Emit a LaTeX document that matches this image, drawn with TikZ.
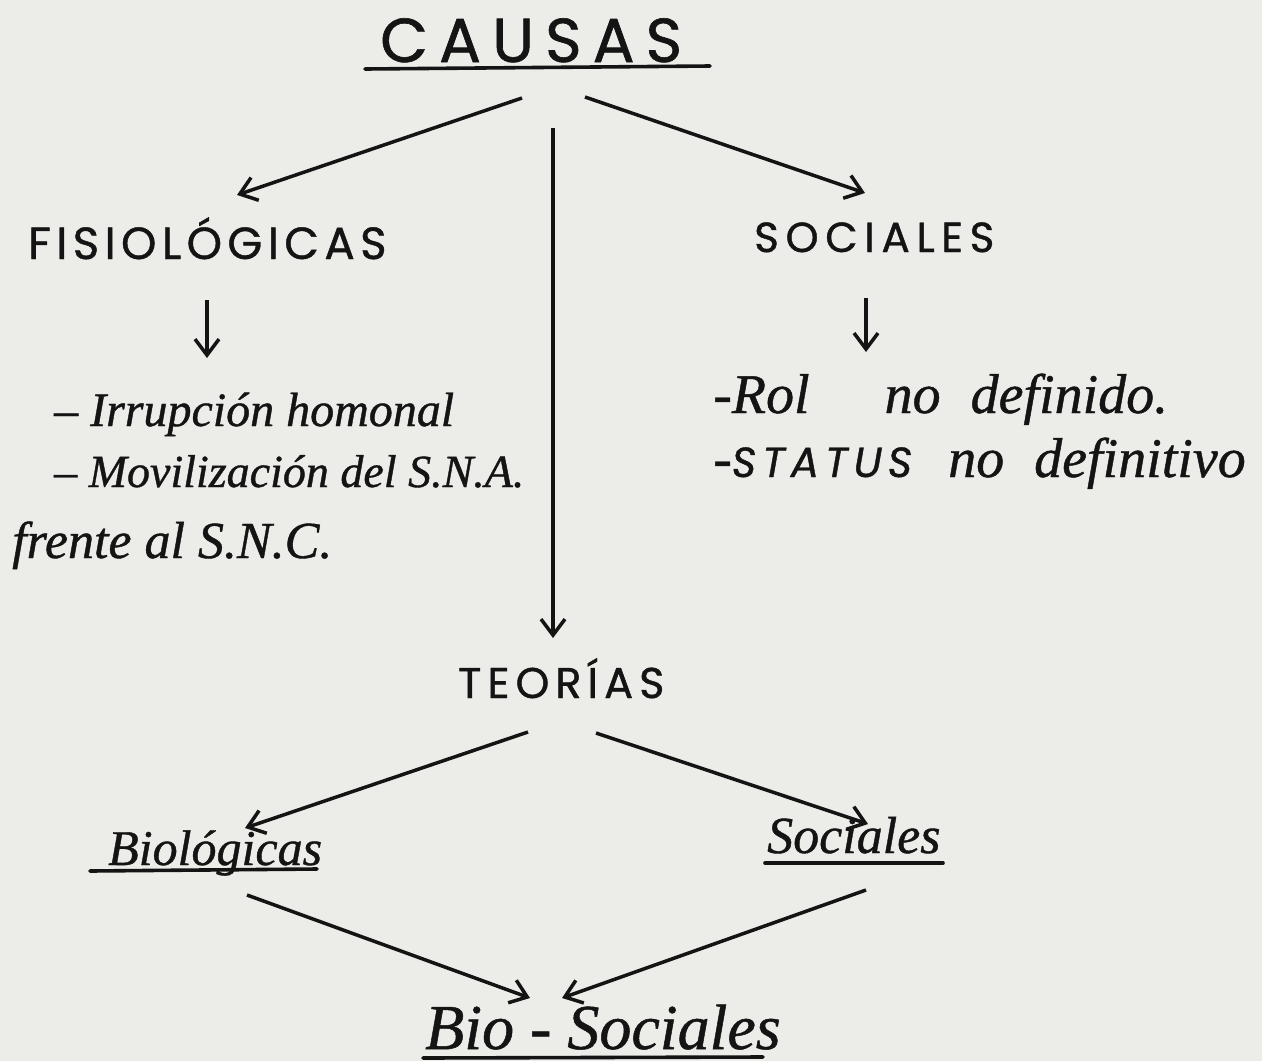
\documentclass[tikz,border=0pt]{standalone}
\usepackage{fontspec}
\setmainfont{Liberation Serif}
\newfontfamily\capsXL[LetterSpace=18, FakeBold=1]{Poppins}
\newfontfamily\capsFis[LetterSpace=12, FakeBold=1]{Poppins}
\newfontfamily\capsSoc[LetterSpace=16, FakeBold=1]{Poppins}
\newfontfamily\capsTeo[LetterSpace=14, FakeBold=1]{Poppins}
\newfontfamily\capsSt[LetterSpace=14, FakeBold=1]{Poppins}
\newfontfamily\handfont[FakeBold=0.8]{Liberation Serif}
\usetikzlibrary{arrows.meta}
\definecolor{paper}{RGB}{236,236,233}
\definecolor{ink}{RGB}{20,20,20}
\tikzset{
  txt/.style={anchor=base west, inner sep=0pt, text=ink},
  bigcap/.style={txt, font=\capsXL\fontsize{62}{70}\selectfont},
  hand/.style={txt, font=\handfont\itshape\fontsize{48}{56}\selectfont},
  conn/.style={draw=ink, line width=3.5pt, -{Straight Barb[length=16pt,width=24pt,line width=3.5pt]}},
  uline/.style={draw=ink, line width=3.6pt, line cap=round}
}
\begin{document}
\begin{tikzpicture}[x=1pt,y=-1pt]
\fill[paper] (0,0) rectangle (1262,1061);
\useasboundingbox (0,0) rectangle (1262,1061);

% titles
\node[bigcap] (causas) at (380,62) {CAUSAS};
\draw[uline] (365,69) -- (710,66);

\node[txt, font=\capsFis\fontsize{45}{52}\selectfont] (fis) at (28,259) {FISIOLÓGICAS};
\node[txt, font=\capsSoc\fontsize{42}{50}\selectfont] (soc) at (754,252) {SOCIALES};
\node[txt, font=\capsTeo\fontsize{43}{50}\selectfont] (teo) at (458,698) {TEORÍAS};

% left list
\node[hand] (l1) at (54,426) {– Irrupción homonal};
\node[hand, font=\handfont\itshape\fontsize{46}{54}\selectfont] (l2) at (54,487) {– Movilización del S.N.A.};
\node[hand, font=\handfont\itshape\fontsize{52}{60}\selectfont] (l3) at (12,558) {frente al S.N.C.};

% right list
\node[hand, font=\handfont\itshape\fontsize{56}{64}\selectfont] (r1) at (713,413) {-Rol\hspace{75pt}no\hspace{30pt}definido.};
\node[hand, font=\handfont\itshape\fontsize{56}{64}\selectfont] (r2) at (713,477) {-{\capsSt\fontsize{42}{48}\selectfont STATUS}\hspace{36pt}no\hspace{30pt}definitivo};

% theory branches
\node[hand, font=\handfont\itshape\fontsize{50}{58}\selectfont] (bio) at (108,865) {Biológicas};
\draw[uline] (90,871) -- (317,869);
\node[hand, font=\handfont\itshape\fontsize{52}{60}\selectfont] (socl) at (767,853) {Sociales};
\draw[uline] (765,863) -- (943,863);
\node[hand, font=\handfont\itshape\fontsize{64}{72}\selectfont] (biosoc) at (425,1049) {Bio - Sociales};
\draw[uline] (423,1058) -- (763,1057);

% connector end points
\coordinate (c1s) at (522,98);  \coordinate (c1e) at (237,195);
\coordinate (c2s) at (585,97);  \coordinate (c2e) at (865,193);
\coordinate (c3s) at (553,128); \coordinate (c3e) at (553,638);
\coordinate (c4s) at (207,300); \coordinate (c4e) at (207,358);
\coordinate (c5s) at (866,298); \coordinate (c5e) at (866,352);
\coordinate (c6s) at (528,732); \coordinate (c6e) at (245,828);
\coordinate (c7s) at (596,733); \coordinate (c7e) at (868,824);
\coordinate (c8s) at (247,895); \coordinate (c8e) at (530,998);
\coordinate (c9s) at (866,890); \coordinate (c9e) at (562,998);

\draw[conn] (c1s) -- (c1e);
\draw[conn] (c2s) -- (c2e);
\draw[conn] (c3s) -- (c3e);
\draw[conn] (c4s) -- (c4e);
\draw[conn] (c5s) -- (c5e);
\draw[conn] (c6s) -- (c6e);
\draw[conn] (c7s) -- (c7e);
\draw[conn] (c8s) -- (c8e);
\draw[conn] (c9s) -- (c9e);
\end{tikzpicture}
\end{document}
